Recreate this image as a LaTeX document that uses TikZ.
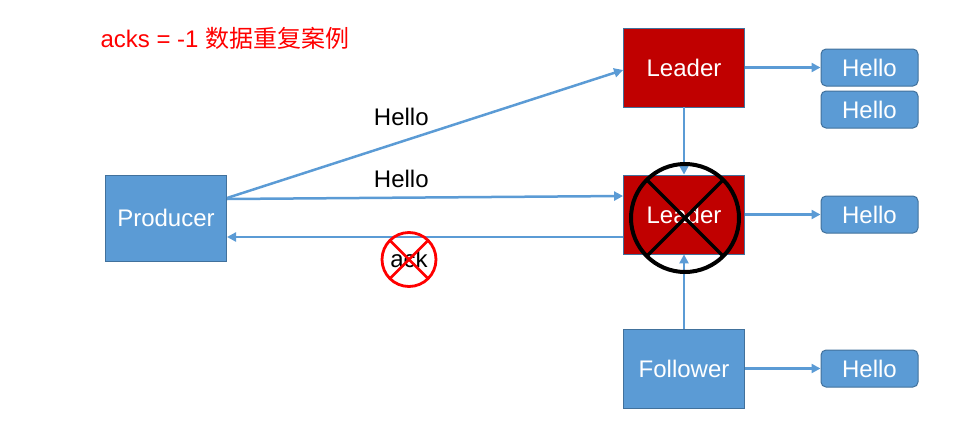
\documentclass[tikz,border=0pt]{standalone}
\usepackage{fontspec}
\setmainfont{Liberation Sans}
\newfontfamily\cjk{Noto Sans CJK SC}
\usetikzlibrary{arrows.meta,calc}
\definecolor{boxblue}{HTML}{5B9BD5}
\definecolor{edgeblue}{HTML}{41719C}
\definecolor{leaderred}{HTML}{C00000}
\begin{document}
\begin{tikzpicture}[x=1pt,y=-1pt,
  txt/.style={font=\fontsize{24}{27}\selectfont},
  bluebox/.style={draw=edgeblue,line width=1pt,fill=boxblue,text=white,txt,minimum width=121pt,minimum height=79pt,inner sep=0pt},
  redbox/.style={draw=edgeblue,line width=0.8pt,fill=leaderred,text=white,txt,minimum width=121pt,minimum height=79pt,inner sep=0pt},
  hellobox/.style={draw=edgeblue,line width=1pt,fill=boxblue,text=white,txt,rounded corners=5pt,minimum width=97pt,minimum height=37pt,inner sep=0pt},
  conn/.style={draw=boxblue,line width=2.5pt,-{Triangle[length=9pt,width=9pt]}}
]
\useasboundingbox (0,0) rectangle (960,439);
\node[anchor=west,text=red,txt] (title) at (97,38) {acks = -1 {\cjk 数据重复案例}};
\node[bluebox,minimum height=86pt] (prod) at (166,218) {Producer};
\node[redbox] (lead1) at (684,67.5) {Leader};
\node[redbox] (lead2) at (684,214.5) {Leader};
\node[bluebox] (foll) at (684,368.5) {Follower};
\node[hellobox] (h1) at (869.5,67.5) {Hello};
\node[hellobox] (h2) at (869.5,109.5) {Hello};
\node[hellobox] (h3) at (869.5,214.5) {Hello};
\node[hellobox] (h4) at (869.5,368.5) {Hello};
% connectors
\draw[conn] (prod.east |- 0,198) -- (lead1.west |- 0,70) node[pos=0.44,above=11pt,black,txt] (lbl1) {Hello};
\draw[conn] (prod.east |- 0,199) -- (lead2.west |- 0,196) node[pos=0.44,above=5pt,black,txt] (lbl2) {Hello};
\draw[conn] (lead2.west |- 0,237) -- (prod.east |- 0,237);
\draw[conn] (lead1.south) -- (lead2.north);
\draw[conn] (foll.north) -- (lead2.south);
\draw[conn] (lead1.east |- h1.west) -- (h1.west);
\draw[conn] (lead2.east |- h3.west) -- (h3.west);
\draw[conn] (foll.east |- h4.west) -- (h4.west);
% crossed-out leader
\coordinate (bc) at (685,218);
\draw[black,line width=4pt] (bc) circle[radius=54];
\draw[black,line width=3.5pt] ($(bc)+(-38,-38)$) -- ($(bc)+(38,38)$);
\draw[black,line width=3.5pt] ($(bc)+(38,-38)$) -- ($(bc)+(-38,38)$);
% crossed-out ack
\node[txt,black] (ack) at (409,259) {ack};
\coordinate (ac) at (409,259.5);
\draw[red,line width=2.8pt] (ac) circle[radius=27];
\draw[red,line width=2.8pt] ($(ac)+(-19,-19)$) -- ($(ac)+(19,19)$);
\draw[red,line width=2.8pt] ($(ac)+(19,-19)$) -- ($(ac)+(-19,19)$);
\end{tikzpicture}
\end{document}
